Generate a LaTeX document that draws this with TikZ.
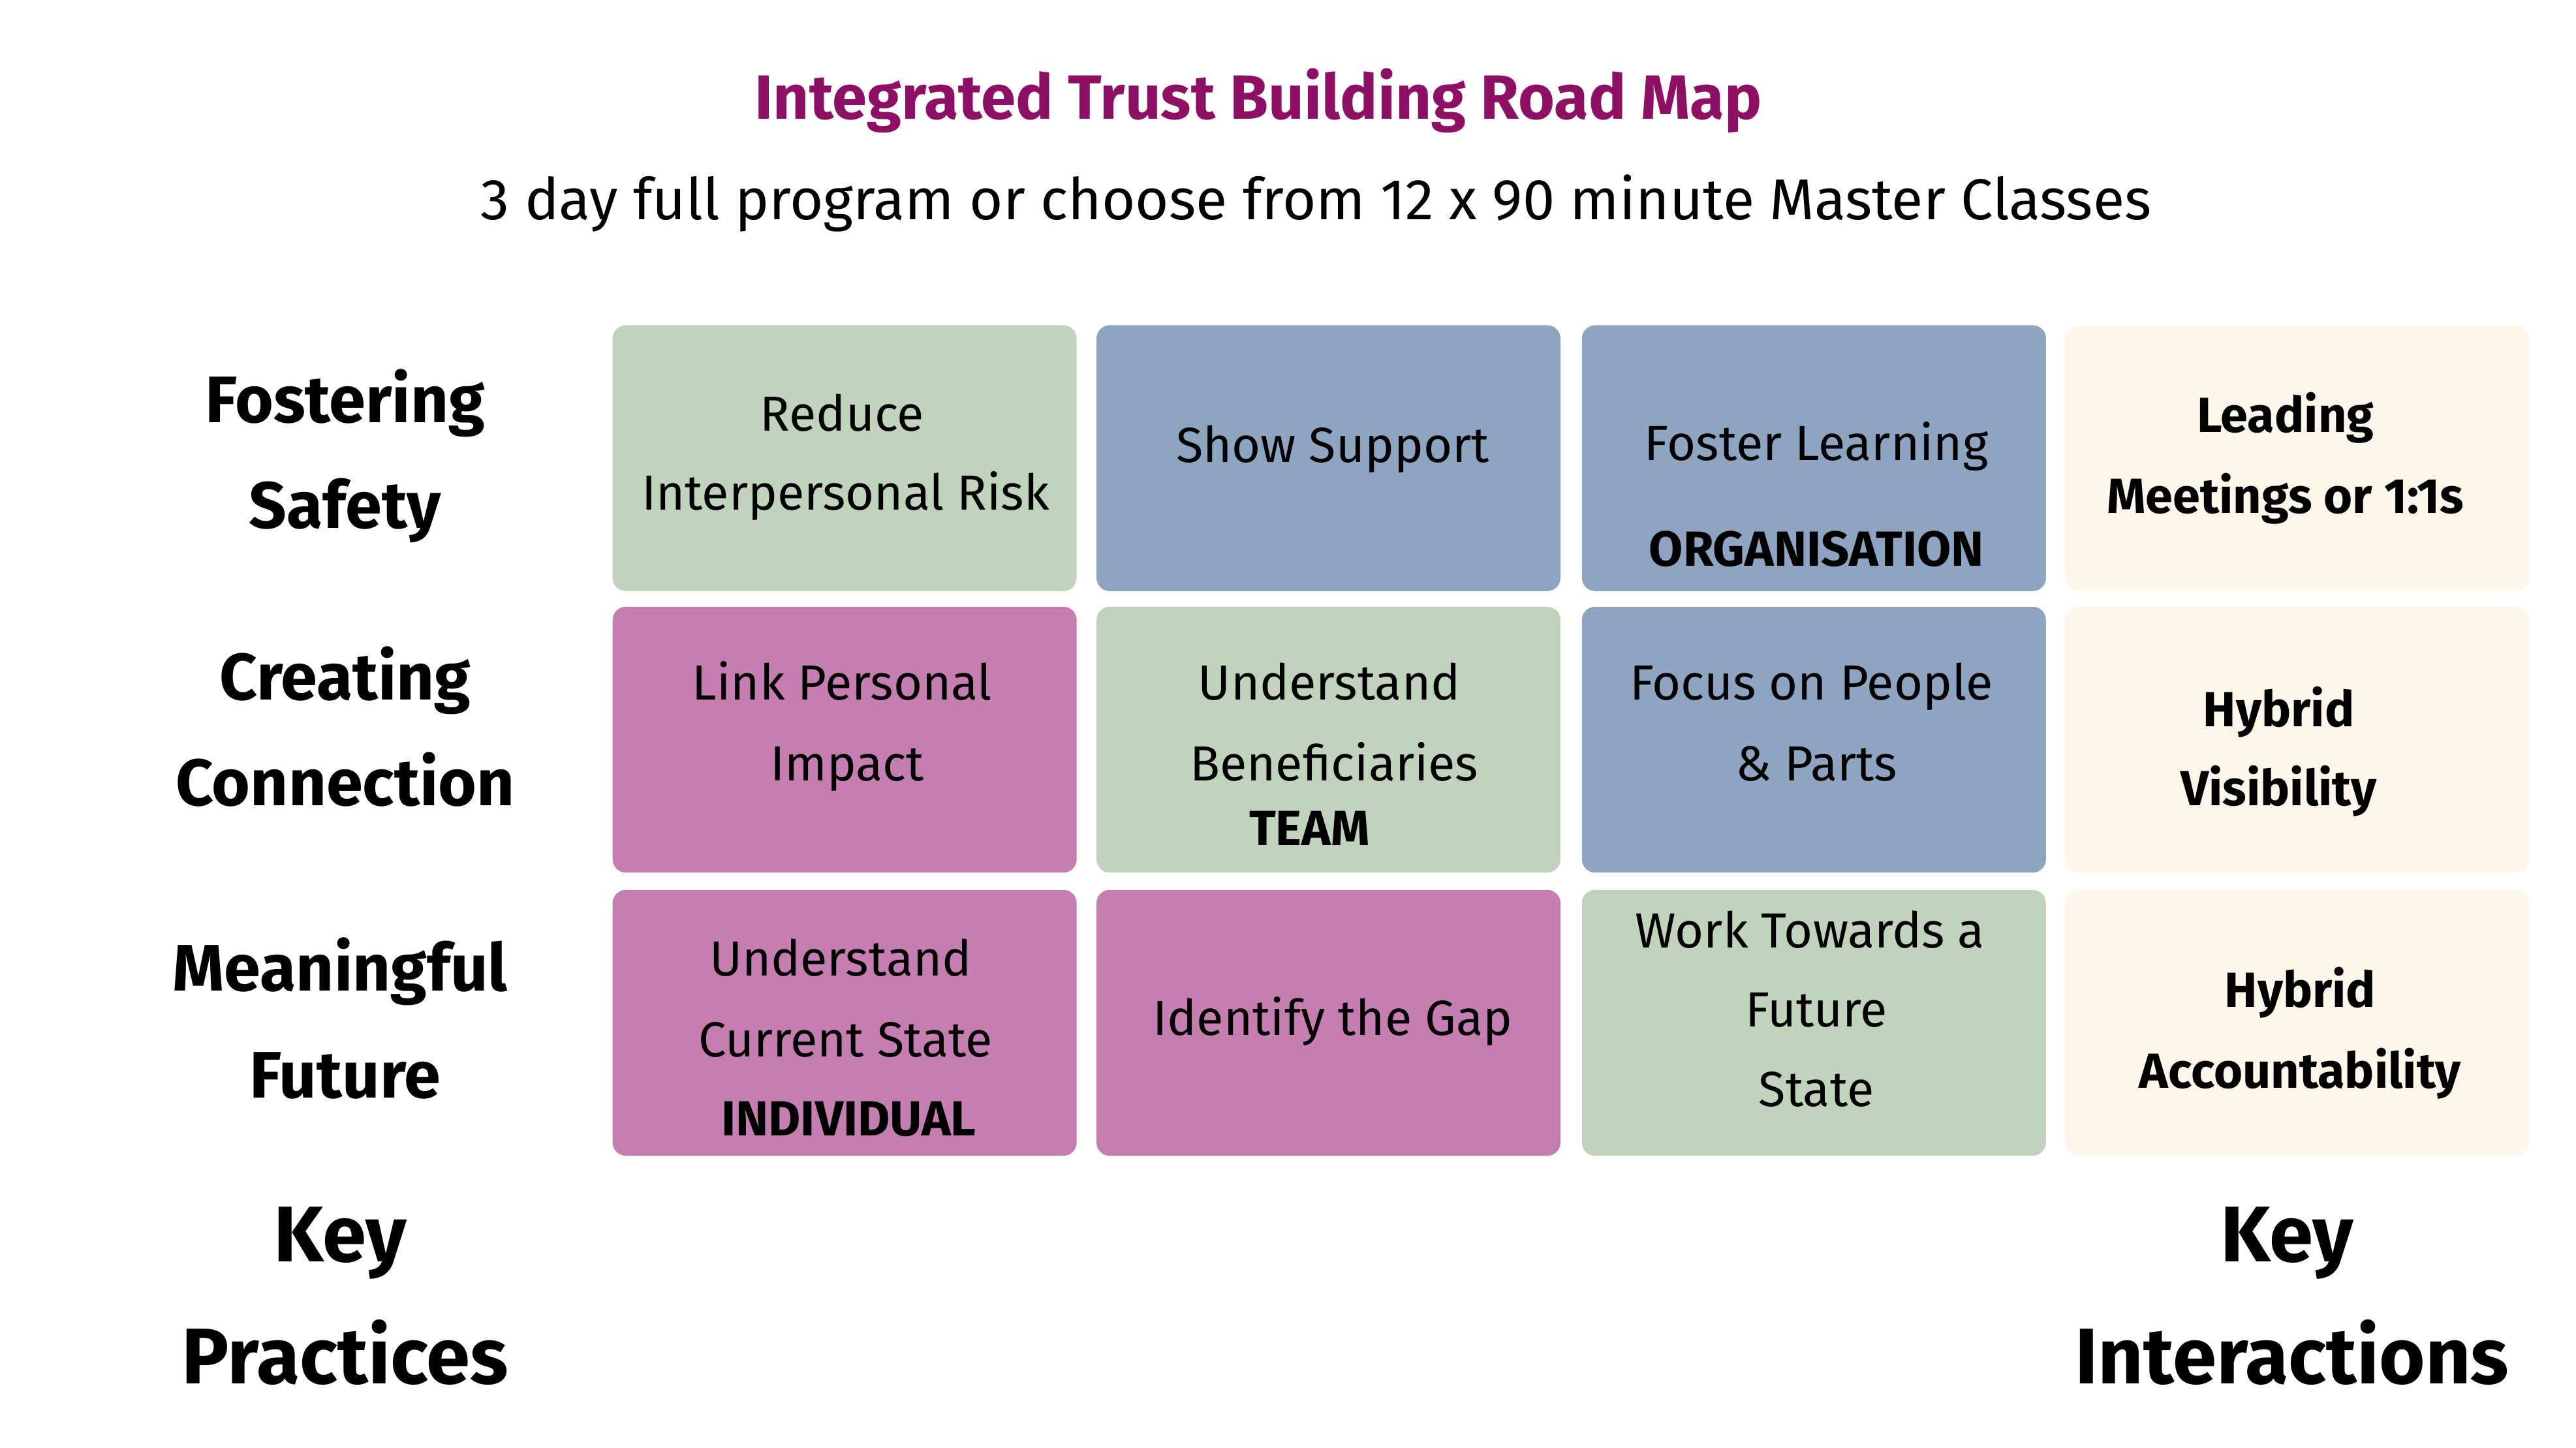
\documentclass[tikz,border=0pt]{standalone}
\usepackage{fontspec}
\setmainfont{Fira Sans}
\begin{document}
\begin{tikzpicture}[x=1bp,y=-1bp,
 cell/.style={draw=none,rounded corners=8bp,minimum width=281bp,minimum height=161bp,inner sep=0},
 t/.style={font=\fontsize{30}{36}\selectfont,inner sep=0,anchor=base},
 tb/.style={font=\fontsize{30}{36}\selectfont\bfseries,inner sep=0,anchor=base},
 lab/.style={font=\fontsize{40}{48}\selectfont\bfseries,inner sep=0,anchor=base},
 key/.style={font=\fontsize{48}{56}\selectfont\bfseries,inner sep=0,anchor=base}]
\definecolor{cg}{HTML}{C1D3BC}\definecolor{cb}{HTML}{8FA4C0}
\definecolor{cp}{HTML}{C47FB0}\definecolor{cc}{HTML}{FCF7EA}
\definecolor{tt}{HTML}{8E1065}
\useasboundingbox (0,0) rectangle (1560,877);
\fill[white] (0,0) rectangle (1560,877);
\node[font=\fontsize{38}{44}\selectfont\bfseries,text=tt,anchor=base,inner sep=0] (title) at (762,72) {Integrated Trust Building Road Map};
\node[font=\fontsize{35}{42}\selectfont,anchor=base,inner sep=0] (sub) at (797,133) {3 day full program or choose from 12 x 90 minute Master Classes};
% boxes
\node[cell,fill=cg] (b11) at (511.5,277.5) {};
\node[cell,fill=cb] (b12) at (804.5,277.5) {};
\node[cell,fill=cb] (b13) at (1098.5,277.5) {};
\node[cell,fill=cc] (b14) at (1391,277.5) {};
\node[cell,fill=cp] (b21) at (511.5,448) {};
\node[cell,fill=cg] (b22) at (804.5,448) {};
\node[cell,fill=cb] (b23) at (1098.5,448) {};
\node[cell,fill=cc] (b24) at (1391,448) {};
\node[cell,fill=cp] (b31) at (511.5,619.5) {};
\node[cell,fill=cp] (b32) at (804.5,619.5) {};
\node[cell,fill=cg] (b33) at (1098.5,619.5) {};
\node[cell,fill=cc] (b34) at (1391,619.5) {};
% texts
\node[t] (t1) at (510,261) {Reduce};
\node[t] (t2) at (512,309) {Interpersonal Risk};
\node[t] (t3) at (807,280) {Show Support};
\node[t] (t4) at (1100,279) {Foster Learning};
\node[tb] (t5) at (1100,343) {ORGANISATION};
\node[tb] (t6) at (1384,262) {Leading};
\node[tb] (t7) at (1384,311) {Meetings or 1:1s};
\node[t] (t8) at (510,424) {Link Personal};
\node[t] (t9) at (513,473) {Impact};
\node[t] (t10) at (805,424) {Understand};
\node[t] (t11) at (808,473) {Beneficiaries};
\node[tb] (t12) at (793,512) {TEAM};
\node[t] (t13) at (1097,424) {Focus on People};
\node[t] (t14) at (1100,473) {\& Parts};
\node[tb] (t15) at (1380,440) {Hybrid};
\node[tb] (t16) at (1380,488) {Visibility};
\node[t] (t17) at (509,591) {Understand};
\node[t] (t18) at (512,640) {Current State};
\node[tb] (t19) at (514,688) {INDIVIDUAL};
\node[t] (t20) at (807,627) {Identify the Gap};
\node[t] (t21) at (1096,574) {Work Towards a};
\node[t] (t22) at (1100,622) {Future};
\node[t] (t23) at (1100,670) {State};
\node[tb] (t24) at (1393,610) {Hybrid};
\node[tb] (t25) at (1393,659) {Accountability};
% left labels
\node[lab] (l1) at (209,256) {Fostering};
\node[lab] (l2) at (209,320) {Safety};
\node[lab] (l3) at (209,424) {Creating};
\node[lab] (l4) at (209,488) {Connection};
\node[lab] (l5) at (206,600) {Meaningful};
\node[lab] (l6) at (209,665) {Future};
\node[key] (k1) at (206,764) {Key};
\node[key] (k2) at (209,838) {Practices};
\node[key] (k3) at (1385,764) {Key};
\node[key] (k4) at (1388,838) {Interactions};
\end{tikzpicture}
\end{document}
